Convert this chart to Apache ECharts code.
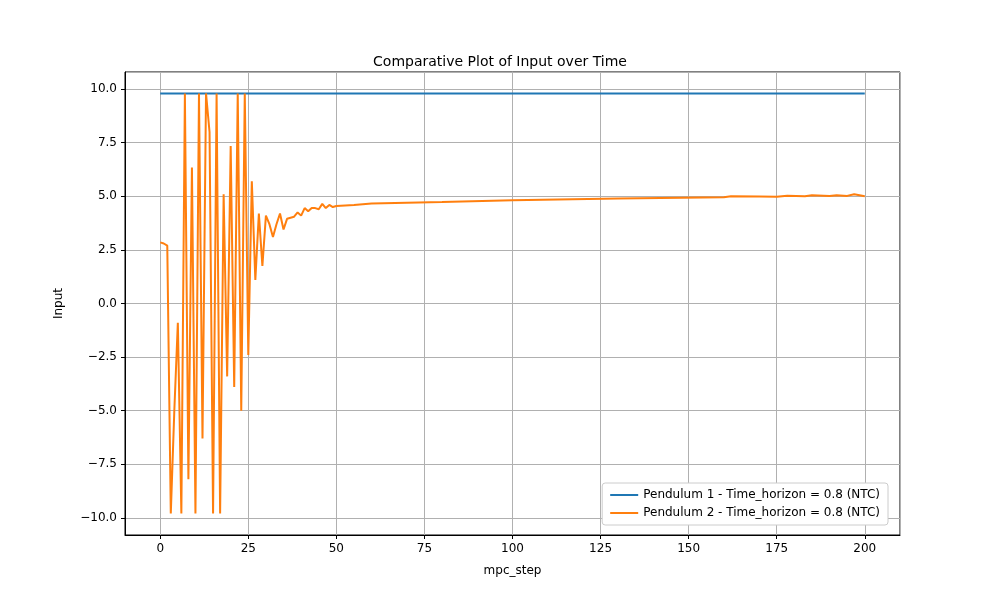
<!DOCTYPE html>
<html>
<head>
<meta charset="utf-8">
<script src="https://cdn.jsdelivr.net/npm/echarts@6/dist/echarts.min.js"></script>
<style>body{margin:0}#c{width:1000px;height:600px}</style>
</head>
<body>
<div id="c"></div>
<script>
// data
var pend1Steps = [0, 200];
var pend1Values = [9.8, 9.8];
var pend2Steps = [0,1,2,3,4,5,6,7,8,9,10,11,12,13,14,15,16,17,18,19,20,21,22,23,24,25,26,27,28,29,30,31,32,33,34,35,36,37,38,39,40,41,42,43,44,45,46,47,48,49,50,55,60,80,100,130,160,162,170,175,178,183,185,190,192,195,197,200];
var pend2Values = [2.85,2.8,2.7,-9.8,-5,-0.9,-9.8,9.8,-8.2,6.35,-9.8,9.8,-6.3,9.8,8,-9.8,9.8,-9.8,5.1,-3.4,7.35,-3.9,9.8,-5,9.8,-2.4,5.7,1.1,4.2,1.75,4.1,3.7,3.1,3.7,4.2,3.45,3.95,4.0,4.05,4.25,4.1,4.45,4.3,4.45,4.45,4.4,4.65,4.45,4.6,4.5,4.55,4.6,4.67,4.74,4.82,4.9,4.96,5.0,4.99,4.98,5.03,5.0,5.05,5.02,5.05,5.02,5.1,5.0];

function pairs(xs, ys){
  var out = [];
  for(var i = 0; i < xs.length; i++){ out.push([xs[i], ys[i]]); }
  return out;
}

var font = 'DejaVu Sans';
function axis(extra){
  return Object.assign({
    type: 'value',
    axisLine: {show: true, onZero: false, lineStyle: {color: '#000'}},
    axisTick: {show: true, length: 4, lineStyle: {color: '#000'}},
    splitLine: {show: true, lineStyle: {color: '#b0b0b0', width: 1}},
    nameLocation: 'middle',
    nameTextStyle: {color: '#000', fontSize: 12, fontFamily: font}
  }, extra);
}

var chart = echarts.init(document.getElementById('c'));
chart.setOption({
  animation: false,
  title: {text: 'Comparative Plot of Input over Time', left: 'center', top: 50,
    textStyle: {fontSize: 14, fontWeight: 'normal', color: '#000', fontFamily: font}},
  grid: {left: 125, right: 100, top: 72, bottom: 65, show: true, borderColor: '#000', borderWidth: 1},
  legend: {
    right: 112, bottom: 75, orient: 'vertical', itemWidth: 28, itemHeight: 2, itemGap: 6,
    backgroundColor: '#fff', borderColor: '#ccc', borderWidth: 1, borderRadius: 3, padding: [6, 8],
    textStyle: {fontSize: 12, color: '#000', fontFamily: font},
    icon: 'rect',
    data: ['Pendulum 1 - Time_horizon = 0.8 (NTC)', 'Pendulum 2 - Time_horizon = 0.8 (NTC)']
  },
  xAxis: axis({min: -10, max: 210, minInterval: 25, maxInterval: 25, splitNumber: 9,
    name: 'mpc_step', nameGap: 30,
    axisLabel: {color: '#000', fontSize: 12, fontFamily: font, showMinLabel: false, showMaxLabel: false}}),
  yAxis: axis({min: -10.8, max: 10.8, minInterval: 2.5, maxInterval: 2.5, splitNumber: 8,
    name: 'Input', nameGap: 60,
    axisLabel: {color: '#000', fontSize: 12, fontFamily: font, showMinLabel: false, showMaxLabel: false,
      formatter: function(v){ return v.toFixed(1).replace('-', '\u2212'); }}}),
  series: [
    {name: 'Pendulum 1 - Time_horizon = 0.8 (NTC)', type: 'line', showSymbol: false,
      data: pairs(pend1Steps, pend1Values), lineStyle: {color: '#1f77b4', width: 2}, itemStyle: {color: '#1f77b4'}},
    {name: 'Pendulum 2 - Time_horizon = 0.8 (NTC)', type: 'line', showSymbol: false,
      data: pairs(pend2Steps, pend2Values), lineStyle: {color: '#ff7f0e', width: 2}, itemStyle: {color: '#ff7f0e'}}
  ]
});
</script>
</body>
</html>
